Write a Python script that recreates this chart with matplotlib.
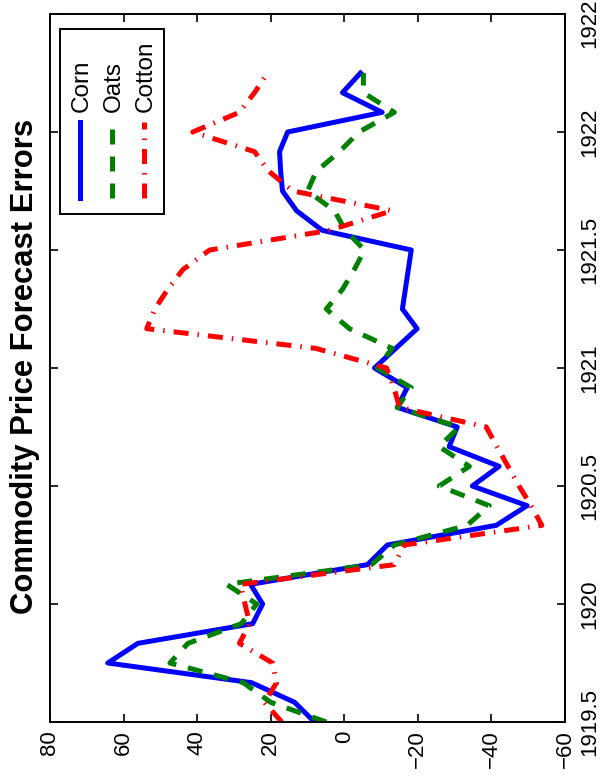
import matplotlib
matplotlib.use('Agg')
import matplotlib.pyplot as plt
from matplotlib.lines import Line2D
from matplotlib.patches import Rectangle
import numpy as np

plt.rcParams['font.family'] = ['Liberation Sans', 'DejaVu Sans']

# ---- data (monthly forecast errors, starting mid-1919) ----
start_year = 1919.5
corn = [8.1, 13.5, 25.2, 64.3, 56.1, 24.9, 22.2, 25.5, -6.3, -11.7, -41.3, -49.7,
        -34.8, -42.1, -28.5, -30.7, -14.4, -17.1, -8.2, -14.0, -19.8, -15.8, -16.6,
        -17.4, -18.2, 6.0, 13.0, 16.8, 17.3, 17.6, 15.4, -10.3, 0.5, -4.4]
oats = [4.9, 20.0, 27.5, 47.4, 42.5, 28.0, 23.8, 32.0, -7.4, -13.6, -33.4, -39.4,
        -25.8, -34.0, -25.8, -31.2, -14.4, -18.2, -9.0, -13.0, -1.4, 4.9, 0.5,
        -2.7, -5.5, -0.3, 2.7, 10.0, 7.6, 1.3, -4.0, -13.6, -5.2, -5.2]
cotton = [17.0, 21.7, 18.4, 19.5, 28.5, 25.7, 27.0, 28.2, -13.6, -16.3, -53.7, -50.8,
          -47.5, -44.5, -41.5, -38.6, -15.0, -13.5, -11.5, 7.8, 53.7, 51.5, 48.0,
          43.9, 36.6, 4.0, -13.0, 14.0, 20.5, 24.4, 41.2, 28.5, 24.4, 20.9]
series_names = ['Corn', 'Oats', 'Cotton']
value_ticks = [80, 60, 40, 20, 0, -20, -40, -60]
value_labels = ['80', '60', '40', '20', '0', '\u221220', '\u221240', '\u221260']
time_ticks = [1919.5, 1920.0, 1920.5, 1921.0, 1921.5, 1922.0, 1922.5]
time_labels = ['1919.5', '1920', '1920.5', '1921', '1921.5', '1922', '1922.5']
title = 'Commodity Price Forecast Errors'

dates = start_year + np.arange(len(corn)) / 12.0

W, H = 600, 784
fig = plt.figure(figsize=(W / 100, H / 100), dpi=100)
ax_l, ax_r, ax_t, ax_b = 50, 565, 14, 722
ax = fig.add_axes([ax_l / W, 1 - ax_b / H, (ax_r - ax_l) / W, (ax_b - ax_t) / H])

styles = [
    dict(color=(0, 0, 1), linestyle='-'),
    dict(color=(0, 0.5, 0), linestyle=(0, (3, 2.4))),
    dict(color=(1, 0, 0), linestyle=(0, (3.0, 1.8, 0.3, 1.8))),
]
lw = 3.6
for vals, st in zip([corn, oats, cotton], styles):
    ax.plot(vals, dates, lw=lw, solid_joinstyle='round', dash_capstyle='butt', **st)

ax.set_xlim(80, -60)
ax.set_ylim(1919.5, 1922.5)
ax.set_xticks(value_ticks)
ax.set_xticklabels(value_labels)
ax.set_yticks(time_ticks)
ax.set_yticklabels(time_labels)

ax.tick_params(axis='x', which='both', top=True, bottom=True, direction='in',
               length=6, width=1.2, labelsize=16, labelrotation=90, pad=6)
ax.tick_params(axis='y', which='both', left=True, right=True, labelleft=False,
               labelright=True, direction='in', length=6, width=1.2,
               labelsize=16, labelrotation=90, pad=10)
for lbl in ax.get_xticklabels():
    lbl.set_ha('center')
    lbl.set_va('top')
for lbl in ax.get_yticklabels():
    lbl.set_ha('left')
    lbl.set_va('center')
for sp in ax.spines.values():
    sp.set_linewidth(1.4)

# title (chart is rotated by 90 degrees)
fig.text(25 / W, 1 - 366 / H, title, rotation=90, ha='center', va='center',
         fontsize=22.3, fontweight='bold')

# legend drawn vertically
def ax_x(px):
    return (px - ax_l) / (ax_r - ax_l)

def ax_y(py):
    return (ax_b - py) / (ax_b - ax_t)

box = Rectangle((ax_x(60), ax_y(214)), ax_x(164) - ax_x(60), ax_y(29) - ax_y(214),
                transform=ax.transAxes, facecolor='white', edgecolor='black',
                linewidth=1.4, zorder=5)
ax.add_patch(box)
for name, st, px in zip(series_names, styles, [80, 112, 144]):
    ln = Line2D([ax_x(px), ax_x(px)], [ax_y(198), ax_y(122)], transform=ax.transAxes,
                lw=lw, zorder=6, dash_capstyle='butt', **st)
    ax.add_line(ln)
    ax.text(ax_x(px + 2), ax_y(112), name, transform=ax.transAxes, rotation=90,
            ha='center', va='bottom', fontsize=17.5, zorder=6)

fig.savefig('out.png', dpi=100)
